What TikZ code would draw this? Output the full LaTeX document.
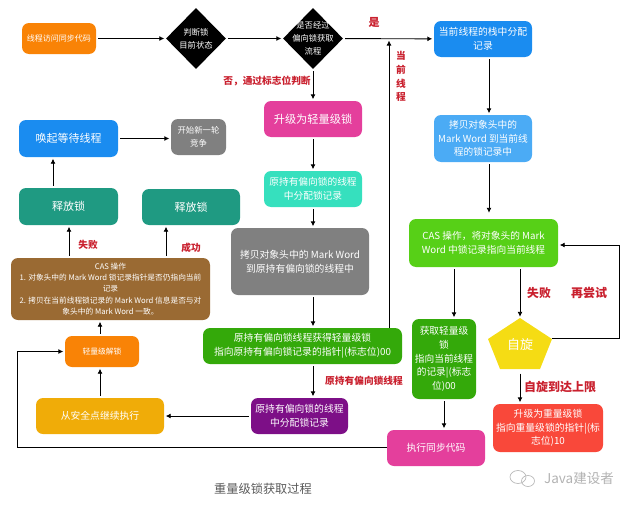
\documentclass[tikz,border=0pt]{standalone}
\usepackage{fontspec}
\setmainfont{Noto Sans CJK SC}
\usetikzlibrary{arrows.meta,shapes.geometric}
\tikzset{
  box/.style 2 args={rounded corners=7pt,align=center,text=white,inner sep=0pt,minimum width=#1pt,minimum height=#2pt},
  fsize/.style 2 args={font=\fontsize{#1}{#2}\selectfont},
  jump/.style={diamond,fill=black,inner sep=0pt,minimum width=60pt,minimum height=61pt},
  jumptext/.style={text=white,align=center,inner sep=0pt,fsize={8.3}{12.8}},
  flow/.style={-{Latex[length=5pt,width=5pt]},line width=0.9pt,black,shorten >=1.5pt,shorten <=2pt},
  note/.style={text=cnote,align=center,inner sep=0pt,font=\fontsize{#1}{13.7}\selectfont\bfseries},
  note/.default=9.7
}
\definecolor{cnote}{HTML}{C9202E}
\definecolor{corange}{HTML}{F98306}
\definecolor{cblue}{HTML}{1A8CF0}
\definecolor{cteal}{HTML}{1F9A82}
\definecolor{cpink}{HTML}{E43F9C}
\definecolor{cmint}{HTML}{36E0BE}
\definecolor{cgrey}{HTML}{808080}
\definecolor{clight}{HTML}{4BABF5}
\definecolor{cgreen}{HTML}{57D017}
\definecolor{cdark}{HTML}{34A90A}
\definecolor{cbrown}{HTML}{9A6A33}
\definecolor{cpurple}{HTML}{7D0F87}
\definecolor{cyellow}{HTML}{F0AC08}
\definecolor{cgold}{HTML}{F5DC14}
\definecolor{cred}{HTML}{F9483A}
\begin{document}
\begin{tikzpicture}[x=1pt,y=-1pt]
  \useasboundingbox (0,0) rectangle (640,506);

  % top row
  \node[box={74}{31},fill=corange,fsize={8}{10}] (start) at (59,38.5) {线程访问同步代码};
  \node[jump,label={[jumptext]center:判断锁\\目前状态}] (state) at (196,38.5) {};
  \node[jump,label={[jumptext]center:是否经过\\偏向锁获取\\流程}] (biased) at (313,38.5) {};
  \node[box={98}{36},fill=cblue,fsize={9.8}{14}] (stack) at (483,39) {当前线程的栈中分配\\记录};
  \node[box={98}{47},fill=clight,fsize={9.7}{13.5}] (copy) at (483,138.5) {拷贝对象头中的\\Mark Word 到当前线\\程的锁记录中};
  \node[box={149}{48},fill=cgreen,fsize={9.7}{13.5}] (cas) at (483.5,243) {CAS 操作，将对象头的 Mark\\Word 中锁记录指向当前线程};

  % middle column
  \node[box={98}{36},fill=cpink,fsize={11.2}{14}] (light) at (313,119) {升级为轻量级锁};
  \node[box={98}{36},fill=cmint,fsize={9.7}{13.5}] (alloc) at (313,189) {原持有偏向锁的线程\\中分配锁记录};
  \node[box={138}{67},fill=cgrey,fsize={9.8}{14}] (copyold) at (300,261.5) {拷贝对象头中的 Mark Word\\到原持有偏向锁的线程中};
  \node[box={199}{36},fill=cdark,fsize={9.8}{14}] (oldgain) at (302.5,346) {原持有偏向锁线程获得轻量级锁\\指向原持有偏向锁记录的指针|(标志位)00};
  \node[box={97}{36},fill=cpurple,fsize={9.8}{14}] (allocold) at (299.5,416) {原持有偏向锁的线程\\中分配锁记录};

  % left column
  \node[box={99}{37},fill=cblue,fsize={11}{14}] (wake) at (68.5,138.5) {唤起等待线程};
  \node[box={55}{36},fill=cgrey,fsize={8.4}{13.5}] (race) at (198.5,137) {开始新一轮\\竞争};
  \node[box={99}{37},fill=cteal,fsize={11}{14}] (freea) at (68.5,206.5) {释放锁};
  \node[box={98}{36},fill=cteal,fsize={11}{14}] (freeb) at (191,207) {释放锁};
  \node[box={199}{62},fill=cbrown,fsize={7.7}{11.3}] (check) at (110.5,289) {CAS 操作\\1. 对象头中的 Mark Word 锁记录指针是否仍指向当前\\记录\\2. 拷贝在当前线程锁记录的 Mark Word 信息是否与对\\象头中的 Mark Word 一致。};
  \node[box={74}{31},fill=corange,fsize={7.8}{10}] (unlock) at (102,351.5) {轻量级解锁};
  \node[box={128}{36},fill=cyellow,fsize={9.8}{12}] (resume) at (100,416) {从安全点继续执行};

  % right column
  \node[box={64}{80},fill=cdark,fsize={9.7}{13.6}] (gain) at (444,359) {获取轻量级\\锁\\指向当前线程\\的记录|(标志\\位)00};
  \fill[cgold] (520,318) -- (552,339) -- (540,369) -- (500,369) -- (488,339) -- cycle;
  \node[text=white,inner sep=0pt,minimum width=64pt,minimum height=53pt,fsize={13}{15}] (spin) at (520,345) {自旋};
  \node[box={110}{48},fill=cred,fsize={9.8}{13.6}] (heavy) at (548,428) {升级为重量级锁\\指向重量级锁的指针|(标\\志位)10};
  \node[box={98}{36},fill=cpink,fsize={9.8}{12}] (run) at (436,448) {执行同步代码};

  % free ends of the connectors
  \coordinate (bendright) at (619.5,338.5);
  \coordinate (bendtop) at (619.5,245);
  \coordinate (bendlow) at (17,447.5);
  \coordinate (bendleft) at (17,351.5);
  \coordinate (joint) at (389,39);

  \draw[flow] (start) -- (state);
  \draw[flow] (state) -- (biased);
  \draw[flow] (biased) -- (stack);
  \draw[flow] (biased) -- (light);
  \draw[flow] (stack.south -| 489,0) -- (copy.north -| 489,0);
  \draw[flow,shorten >=6pt] (copy.south -| 489,0) -- (cas.north -| 489,0);
  \draw[flow] (light) -- (alloc);
  \draw[flow] (alloc) -- (copyold.north -| alloc);
  \draw[flow] (copyold.south -| alloc) -- (oldgain.north -| alloc);
  \draw[flow] (oldgain.south -| alloc) -- (allocold.north -| alloc);
  \draw[flow] (allocold) -- (resume);
  \draw[flow] (resume) -- (unlock.south -| resume);
  \draw[flow] (unlock.north -| resume) -- (check.south -| resume);
  \draw[flow] (check.north -| 69,0) -- (freea.south -| 69,0);
  \draw[flow] (check.north -| 166,0) -- (freeb.south -| 166,0);
  \draw[flow] (freea.north -| 53,0) -- (wake.south -| 53,0);
  \draw[flow] (wake) -- (race.west |- wake);
  \draw[flow,shorten <=0pt] (oldgain.north -| joint) -- (joint);
  \draw[flow] (cas.south -| 454,0) -- (gain.north -| 454,0);
  \draw[flow] (cas.south -| spin) -- (spin.north);
  \draw[flow] (spin.south) -- (heavy.north -| spin);
  \draw[flow] (gain) -- (run.north -| gain);
  \draw[flow,shorten <=0pt] (spin.east |- bendright) -- (bendright) -- (bendtop) -- (cas.east |- bendtop);
  \draw[flow,shorten <=0pt] (run.west |- bendlow) -- (bendlow) -- (bendleft) -- (unlock);

  % red labels
  \node[note] (nolabel) at (267,81) {否，通过标志位判断};
  \node[note={11}] (yeslabel) at (374,22) {是};
  \node[note] (curlabel) at (401,76.5) {当\\前\\线\\程};
  \node[note] (faillabel) at (88,245) {失败};
  \node[note] (oklabel) at (191,248) {成功};
  \node[note={11.8}] (failright) at (539,293) {失败};
  \node[note={12}] (againlabel) at (589,293) {再尝试};
  \node[note] (oldlabel) at (364,381) {原持有偏向锁线程};
  \node[note={12}] (toplabel) at (560,387) {自旋到达上限};

  % caption and mark
  \node[text=black!65,fsize={12.2}{14},inner sep=0pt] (title) at (263,489) {重量级锁获取过程};
  \draw[black!28,line width=0.7pt] (518,477) ellipse (8pt and 6.5pt);
  \draw[black!28,line width=0.7pt] (528,481) ellipse (6.5pt and 5.5pt);
  \node[text=black!30,fsize={13.5}{15},inner sep=0pt] (mark) at (579,478) {Java建设者};
\end{tikzpicture}
\end{document}
